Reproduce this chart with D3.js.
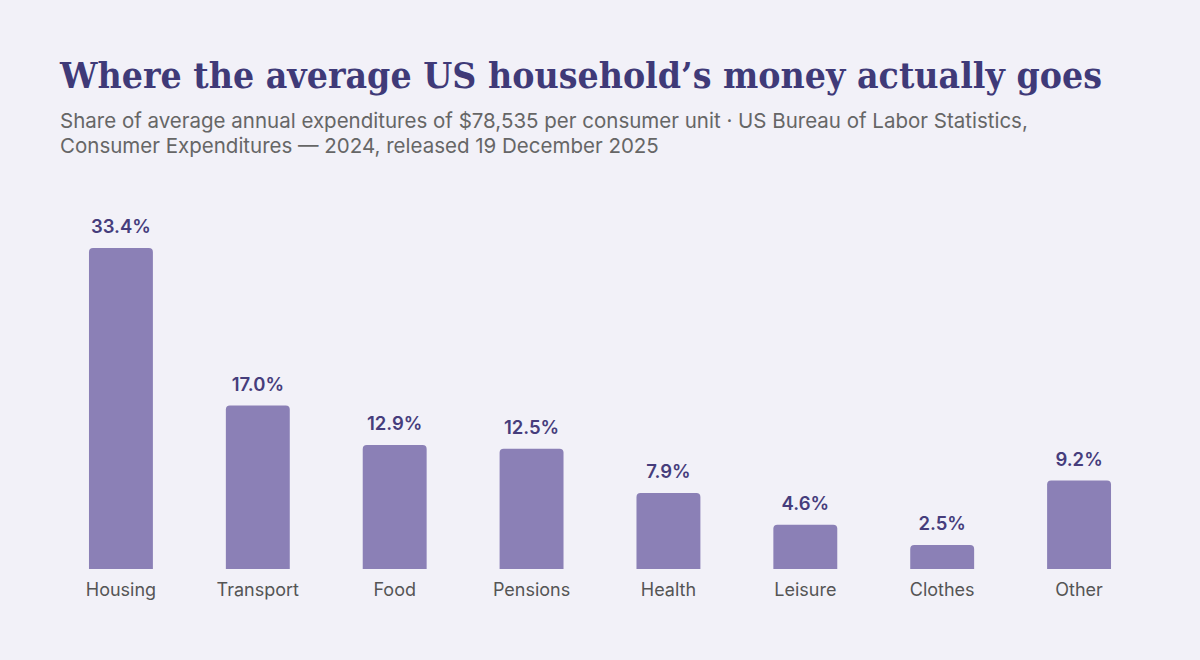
<!DOCTYPE html>
<html><head><meta charset="utf-8">
<script src="https://cdn.jsdelivr.net/npm/d3@7"></script>
<style>body{margin:0;background:#f2f1f8}</style></head>
<body><svg id="c" width="1200" height="660"></svg>
<script>
const categories=["Housing","Transport","Food","Pensions","Health","Leisure","Clothes","Other"];
const values=[33.4,17.0,12.9,12.5,7.9,4.6,2.5,9.2];
const svg=d3.select("#c");
svg.append("rect").attr("width",1200).attr("height",660).attr("fill","#f2f1f8");
svg.append("text").attr("x",60).attr("y",88).attr("font-family","DejaVu Serif").attr("font-weight","bold")
 .attr("font-size",35).attr("fill","#3f3a78").attr("textLength",1042).attr("lengthAdjust","spacingAndGlyphs")
 .text("Where the average US household’s money actually goes");
const sub=["Share of average annual expenditures of $78,535 per consumer unit · US Bureau of Labor Statistics,","Consumer Expenditures — 2024, released 19 December 2025"];
sub.forEach((s,i)=>svg.append("text").attr("x",60).attr("y",128+i*25).attr("font-family","Inter").attr("font-size",20.5).attr("fill","#666").text(s));
const x=d3.scaleBand().domain(categories).range([52.5,1147.5]).paddingInner(0.533).paddingOuter(0.2665);
const y=d3.scaleLinear().domain([0,33.4]).range([569,248]);
const r=4;
svg.selectAll("path.bar").data(values).join("path").attr("fill","#8b80b6").attr("d",(d,i)=>{
 const x0=x(categories[i]),w=x.bandwidth(),t=y(d),b=y(0);
 return `M${x0},${b}V${t+r}Q${x0},${t} ${x0+r},${t}H${x0+w-r}Q${x0+w},${t} ${x0+w},${t+r}V${b}Z`;});
svg.selectAll("text.v").data(values).join("text").attr("x",(d,i)=>x(categories[i])+x.bandwidth()/2).attr("y",d=>y(d)-15)
 .attr("text-anchor","middle").attr("font-family","Inter").attr("font-weight","600").attr("font-size",18.5).attr("fill","#463d7c").text(d=>d.toFixed(1)+"%");
svg.selectAll("text.c").data(categories).join("text").attr("x",d=>x(d)+x.bandwidth()/2).attr("y",596)
 .attr("text-anchor","middle").attr("font-family","Inter").attr("font-size",18).attr("fill","#555").text(d=>d);
</script></body></html>
